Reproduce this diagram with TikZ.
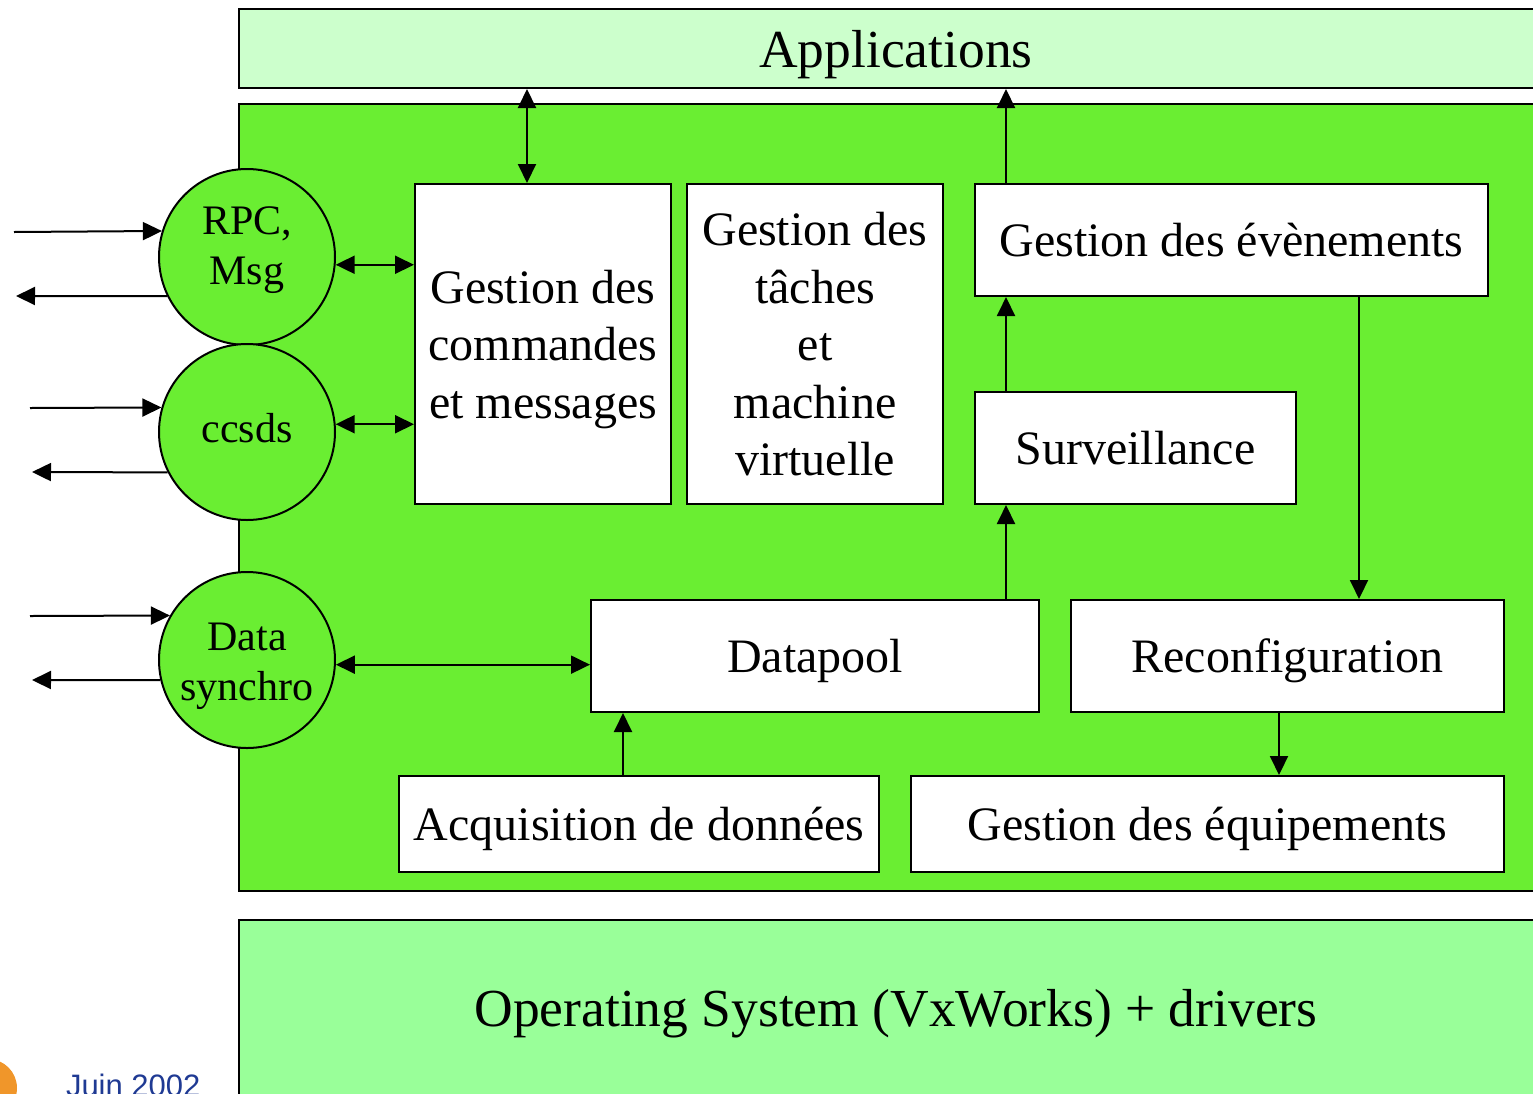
\documentclass[tikz,border=0pt]{standalone}
\usepackage{fontspec}
\setmainfont{Liberation Serif}
\newfontfamily\datefont{Liberation Sans}
\usetikzlibrary{arrows.meta}

\definecolor{appgreen}{RGB}{204,255,204}
\definecolor{maingreen}{RGB}{106,238,50}
\definecolor{osgreen}{RGB}{153,255,153}
\definecolor{dateblue}{RGB}{31,58,147}
\definecolor{logoorange}{RGB}{240,150,42}

\begin{document}
\begin{tikzpicture}[x=1pt, y=-1pt, line width=2pt,
        layer/.style={draw, rectangle, inner sep=0pt, text depth=0pt, font=\fontsize{53.5}{64}\selectfont},
        module/.style={draw, rectangle, fill=white, inner sep=0pt, align=center, text depth=0pt,
                       font=\fontsize{48}{57.5}\selectfont},
        link/.style={draw, circle, fill=maingreen, inner sep=0pt, minimum size=176pt},
        linkname/.style={inner sep=0pt, align=center, font=\fontsize{42}{50}\selectfont},
        one/.style={-{Triangle[length=19pt, width=18pt]}},
        both/.style={{Triangle[length=19pt, width=18pt]}-{Triangle[length=19pt, width=18pt]}}]
                \useasboundingbox (0, 0) rectangle (1533, 1093);
                \clip (0, 0) rectangle (1533, 1093);
                % Layers
                \node [layer, fill=appgreen, minimum width=1314pt, minimum height=79pt] (apps) at (896, 48.5) {Applications};
                \node [layer, fill=maingreen, minimum width=1314pt, minimum height=787pt] (core) at (896, 497.5) {};
                \node [layer, fill=osgreen, minimum width=1314pt, minimum height=176pt] (os) at (896, 1008) {Operating System (VxWorks) + drivers};
                % Modules
                \node [module, minimum width=256pt, minimum height=320pt] (cmd) at (543, 344) {Gestion des\\commandes\\et messages};
                \node [module, minimum width=256pt, minimum height=320pt] (taches) at (815, 344) {Gestion des\\t\^aches\\et\\machine\\virtuelle};
                \node [module, minimum width=513pt, minimum height=112pt] (evt) at (1231.5, 240) {Gestion des \'ev\`enements};
                \node [module, minimum width=321pt, minimum height=112pt] (surv) at (1135.5, 448) {Surveillance};
                \node [module, minimum width=448pt, minimum height=112pt] (datapool) at (815, 656) {Datapool};
                \node [module, minimum width=433pt, minimum height=112pt] (reconf) at (1287.5, 656) {Reconfiguration};
                \node [module, minimum width=480pt, minimum height=96pt] (acq) at (639, 824) {Acquisition de donn\'ees};
                \node [module, minimum width=593pt, minimum height=96pt] (equip) at (1207.5, 824) {Gestion des \'equipements};
                % Links
                \node [link] (rpc) at (247, 257) {};
                \node [link] (ccsds) at (247, 432) {};
                \node [link] (sync) at (247, 660) {};
                \node [linkname] (rpcname) at ([yshift=6.5]rpc.center) {RPC,\\Msg};
                \node [linkname] (ccsdsname) at ([yshift=4]ccsds.center) {ccsds};
                \node [linkname] (syncname) at ([yshift=-6]sync.center) {Data\\synchro};
                % Outside ends
                \coordinate (rpcin) at (14, 232);
                \coordinate (rpcout) at (16, 296);
                \coordinate (ccsdsin) at (30, 408);
                \coordinate (ccsdsout) at (32, 472);
                \coordinate (syncin) at (30, 616);
                \coordinate (syncout) at (32, 680);
                \draw [one] (rpcin) -- (rpc.163.5);
                \draw [one] (rpc.206.3) -- (rpcout);
                \draw [one] (ccsdsin) -- (ccsds.164.2);
                \draw [one] (ccsds.207) -- (ccsdsout);
                \draw [one] (syncin) -- (sync.150);
                \draw [one] (sync.193) -- (syncout);
                % Links to modules
                \draw [both] (rpc.355) -- (rpc.355 -| cmd.west);
                \draw [both] (ccsds.5) -- (ccsds.5 -| cmd.west);
                \draw [both] (sync.357) -- (sync.357 -| datapool.west);
                % Between modules
                \draw [both] ([xshift=-16]cmd.north) -- ([xshift=-16]cmd.north |- apps.south);
                \draw [one] ([xshift=32]evt.north west) -- ([xshift=32]evt.north west |- apps.south);
                \draw [one] ([xshift=32]surv.north west) -- ([xshift=32]surv.north west |- evt.south);
                \draw [one] ([xshift=32]surv.south west |- datapool.north) -- ([xshift=32]surv.south west);
                \draw [one] ([xshift=127.5]evt.south) -- ([xshift=127.5]evt.south |- reconf.north);
                \draw [one] ([xshift=-8.5]reconf.south) -- ([xshift=-8.5]reconf.south |- equip.north);
                \draw [one] ([xshift=-16]acq.north) -- ([xshift=-16]acq.north |- datapool.south);
                % Footer
                \fill [logoorange] (-12, 1088) circle (29);
                \node [anchor=base west, inner sep=0pt, text=dateblue, font=\datefont\fontsize{31}{36}\selectfont] (date) at (65, 1096) {Juin 2002};
            \end{tikzpicture}
\end{document}
